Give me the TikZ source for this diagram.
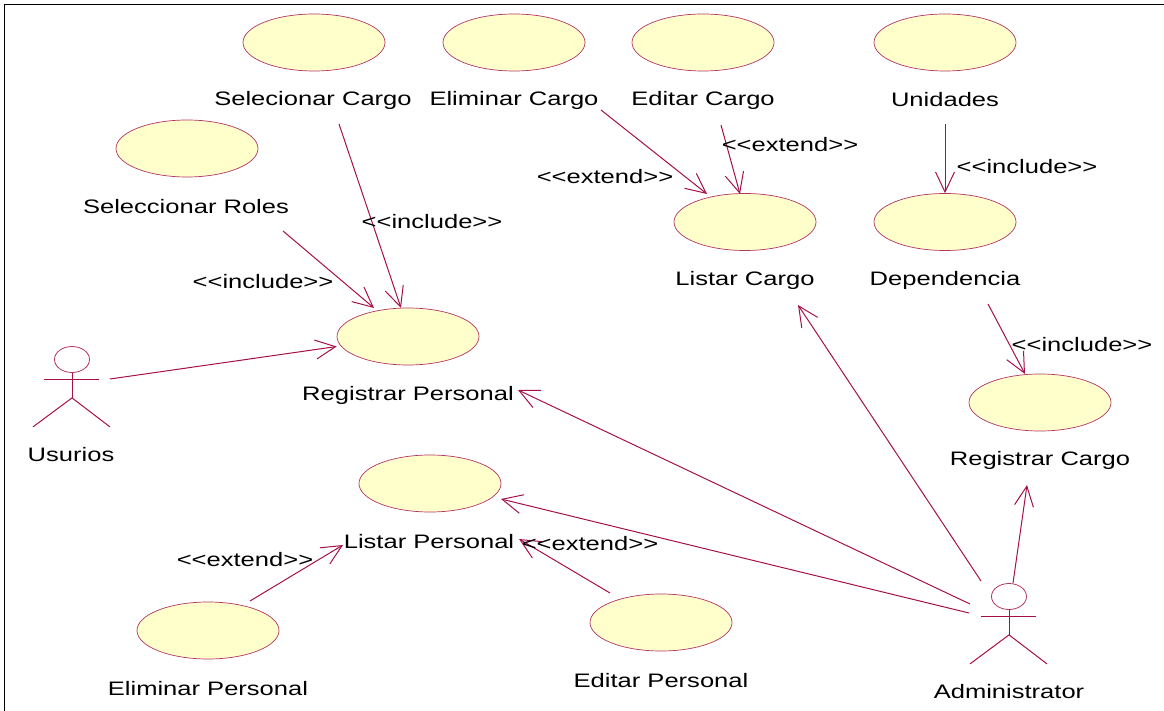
\documentclass[tikz,border=0pt]{standalone}
\usepackage{fontspec}
\setmainfont[FakeStretch=1.31]{Liberation Sans}
\usetikzlibrary{arrows.meta,shapes.geometric}
\definecolor{rosered}{HTML}{A5104A}
\definecolor{roseyellow}{HTML}{FFFFCC}
\tikzset{
       usecase/.style = { ellipse, draw=rosered!85, fill=roseyellow, line width=0.7pt, minimum width=142pt, minimum height=57pt, inner sep=0pt },
          head/.style = { ellipse, draw=rosered!85, line width=0.8pt, minimum width=35pt, minimum height=26pt, inner sep=0pt },
         title/.style = { black, inner sep=0pt, font=\fontsize{19.5}{22}\selectfont },
        stereo/.style = { title },
          limb/.style = { rosered, line width=1pt },
         assoc/.style = { rosered, line width=1pt, -{Straight Barb[length=20pt,width=19pt,line width=1pt]} }
}
\begin{document}
\begin{tikzpicture}[x=1pt, y=-1pt]
  \useasboundingbox (0,0) rectangle (1164,711);

  % frame
  \draw[black, line width=1.2pt] (4.5,711) -- (4.5,4.5) -- (1164,4.5);

  % use cases
  \node (selcargo) at (314,42.5) [usecase] {};
  \node (elimcargo) at (514,42.5) [usecase] {};
  \node (editcargo) at (703,42.5) [usecase] {};
  \node (unidades) at (945,42.5) [usecase] {};
  \node (selroles) at (187,148.5) [usecase] {};
  \node (listcargo) at (745,222) [usecase] {};
  \node (dependencia) at (945,222) [usecase] {};
  \node (regpers) at (408,336.5) [usecase] {};
  \node (regcargo) at (1040,402.5) [usecase] {};
  \node (listpers) at (430,483.5) [usecase] {};
  \node (elimpers) at (208,630.5) [usecase] {};
  \node (editpers) at (661,622.5) [usecase] {};

  % names
  \node (selcargolabel) at (313,100) [title] {Selecionar Cargo};
  \node (elimcargolabel) at (514,100) [title] {Eliminar Cargo};
  \node (editcargolabel) at (703,100) [title] {Editar Cargo};
  \node (unidadeslabel) at (945,100) [title] {Unidades};
  \node (selroleslabel) at (186,207) [title] {Seleccionar Roles};
  \node (listcargolabel) at (745,280) [title] {Listar Cargo};
  \node (dependencialabel) at (945,280) [title] {Dependencia};
  \node (regperslabel) at (408,395) [title] {Registrar Personal};
  \node (regcargolabel) at (1040,460) [title] {Registrar Cargo};
  \node (listperslabel) at (429,542) [title] {Listar Personal};
  \node (elimperslabel) at (208,689) [title] {Eliminar Personal};
  \node (editperslabel) at (661,681) [title] {Editar Personal};

  % actors
  \node (usrhead) at (72,359.5) [head] {};
  \draw[limb] (usrhead.south) -- ++(0,25) coordinate (usrhip);
  \draw[limb] ([shift={(-28,19.5)}]usrhead.center) -- ++(55,0);
  \draw[limb] ([shift={(-39,29)}]usrhip) -- (usrhip) -- ++(38,29);
  \node (usrlabel) at (71,455) [title] {Usurios};

  \node (admhead) at (1009,596.5) [head] {};
  \draw[limb] (admhead.south) -- ++(0,25) coordinate (admhip);
  \draw[limb] ([shift={(-28,19.5)}]admhead.center) -- ++(55,0);
  \draw[limb] ([shift={(-39,29)}]admhip) -- (admhip) -- ++(38,29);
  \node (admlabel) at (1009,692) [title] {Administrator};

  % connectors
  \draw[assoc] ([shift={(26,24)}]selcargolabel.center) -- ([shift={(-7,-28.5)}]regpers.center);
  \draw[assoc] ([shift={(97,24)}]selroleslabel.center) -- ([shift={(-34,-28.5)}]regpers.center);
  \draw[assoc] ([shift={(87,10)}]elimcargolabel.center) -- ([shift={(-38,-28)}]listcargo.center);
  \draw[assoc] ([shift={(18,25)}]editcargolabel.center) -- ([shift={(-5,-28)}]listcargo.center);
  \draw[assoc] ([shift={(0,24)}]unidadeslabel.center) -- (dependencia.north);
  \draw[assoc] ([shift={(43,24)}]dependencialabel.center) -- ([shift={(-15,-28.5)}]regcargo.center);
  \draw[assoc] ([shift={(38,19.5)}]usrhead.center) -- (regpers.west |- 337,346.5);
  \draw[assoc] ([shift={(-28,-15.5)}]admhead.center) -- ([shift={(53,25)}]listcargolabel.center);
  \draw[assoc] ([shift={(-39,7.5)}]admhead.center) -- ([shift={(110,-5)}]regperslabel.center);
  \draw[assoc] ([shift={(-40,16.5)}]admhead.center) -- ([shift={(71,15.5)}]listpers.center);
  \draw[assoc] ([shift={(4,-13.5)}]admhead.center) -- ([shift={(-13,25)}]regcargolabel.center);
  \draw[assoc] ([shift={(42,-29.5)}]elimpers.center) -- ([shift={(-86,3)}]listperslabel.center);
  \draw[assoc] ([shift={(-51,-29.5)}]editpers.center) -- ([shift={(90,-3)}]listperslabel.center);

  % stereotypes
  \node (incone) at (432,222) [stereo] {<{}<include>{}>};
  \node (inctwo) at (263,282) [stereo] {<{}<include>{}>};
  \node (extone) at (790,145) [stereo] {<{}<extend>{}>};
  \node (exttwo) at (605,177) [stereo] {<{}<extend>{}>};
  \node (incthree) at (1027,167) [stereo] {<{}<include>{}>};
  \node (incfour) at (1082,345) [stereo] {<{}<include>{}>};
  \node (extthree) at (245,560) [stereo] {<{}<extend>{}>};
  \node (extfour) at (590,544) [stereo] {<{}<extend>{}>};
\end{tikzpicture}
\end{document}
